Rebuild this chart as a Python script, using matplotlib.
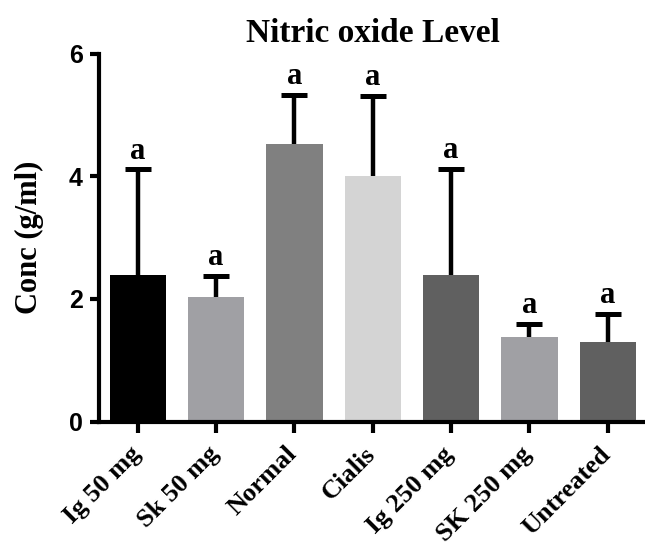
import matplotlib.pyplot as plt
from matplotlib.transforms import ScaledTranslation

# group data
groups = ['Ig 50 mg', 'Sk 50 mg', 'Normal', 'Cialis', 'Ig 250 mg', 'SK 250 mg', 'Untreated']
means = [2.39, 2.03, 4.52, 4.00, 2.39, 1.37, 1.30]
errors = [1.72, 0.34, 0.81, 1.31, 1.73, 0.22, 0.45]
letters = ['a', 'a', 'a', 'a', 'a', 'a', 'a']
bar_colors = ['#000000', '#a0a0a4', '#808080', '#d4d4d4', '#606060', '#a0a0a4', '#606060']

serif = ['Liberation Serif', 'DejaVu Serif']
sans = ['Liberation Sans', 'DejaVu Sans']

fig = plt.figure(figsize=(6.45, 5.46), dpi=100)
ax = fig.add_axes([0.153, 0.228, 0.85, 0.674])

x = list(range(len(groups)))
tops = [m + e for m, e in zip(means, errors)]
ax.bar(x, means, width=0.72, color=bar_colors, zorder=2)
# upper error bars only, with a cap on top
ax.errorbar(x, means, yerr=[[0] * len(errors), errors], fmt='none', ecolor='black',
            elinewidth=3.2, capsize=0, zorder=3)
ax.plot(x, tops, linestyle='none', marker='_', markersize=19, mew=3.6, color='black', zorder=4)

for xi, t, lab in zip(x, tops, letters):
    ax.text(xi, t + 0.06, lab, ha='center', va='bottom', fontsize=22,
            fontweight='bold', family=serif)

ax.set_xlim(-0.5, 6.5)
ax.set_ylim(0, 6)
ax.set_yticks([0, 2, 4, 6])
ax.set_xticks(x)
ax.set_xticklabels([])

# rotated group labels, placed below each tick
lab_trans = ax.get_xaxis_transform() + ScaledTranslation(-0.09, -0.21, fig.dpi_scale_trans)
for xi, g in zip(x, groups):
    ax.text(xi, 0, g, transform=lab_trans, rotation=45, ha='right', va='top',
            rotation_mode='anchor', fontsize=19, fontweight='bold', family=serif)

for t in ax.get_yticklabels():
    t.set_family(sans)
    t.set_fontweight('bold')
    t.set_fontsize(18)

for s in ['top', 'right']:
    ax.spines[s].set_visible(False)
for s in ['left', 'bottom']:
    ax.spines[s].set_linewidth(3)
ax.tick_params(axis='y', length=6.5, width=3, pad=5)
ax.tick_params(axis='x', length=8, width=3, pad=4)

ax.set_ylabel('Conc (g/ml)', fontsize=22, fontweight='bold', family=serif, labelpad=18)
ax.set_title('Nitric oxide Level', fontsize=24, fontweight='bold', family=serif, pad=8)

fig.savefig('out.png', dpi=100)
